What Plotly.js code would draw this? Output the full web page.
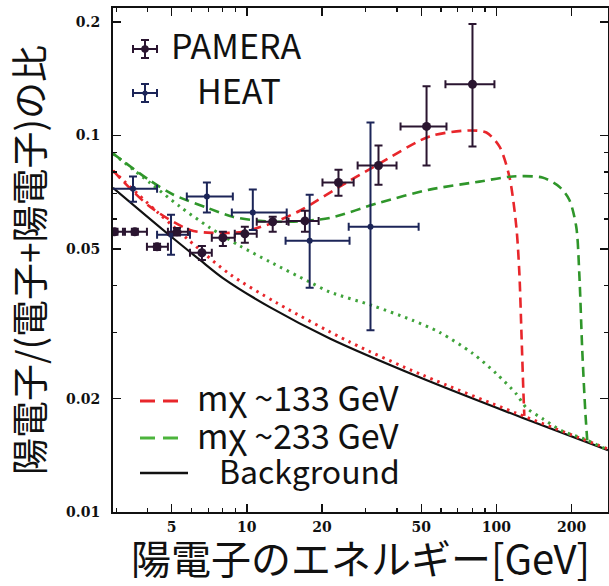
<!DOCTYPE html>
<html><head><meta charset="utf-8">
<script src="https://cdn.plot.ly/plotly-3.0.1.min.js"></script>
<style>html,body{margin:0;padding:0;background:#fff}</style>
</head><body><div id="chart" style="width:609px;height:586px"></div>
<script>
// PAMELA data (labelled PAMERA in the chart)
const pamX   = [2.95, 3.56, 4.37, 5.25, 6.61, 8.02, 9.82, 12.7, 17.1, 23.3, 33.7, 52.5, 80.2];
const pamY   = [0.0555, 0.0555, 0.0506, 0.0555, 0.0488, 0.0535, 0.0548, 0.0590, 0.0593, 0.0750, 0.0832, 0.1057, 0.1368];
const pamXlo = [2.6, 3.19, 3.98, 4.83, 5.92, 7.24, 8.95, 10.96, 14.45, 20.1, 27.8, 41.3, 62.5];
const pamXhi = [3.25, 3.98, 4.83, 5.81, 7.24, 8.95, 10.96, 14.7, 19.4, 26.8, 39.8, 63.1, 98.2];
const pamYlo = [0.0545, 0.0545, 0.0496, 0.0542, 0.0467, 0.0509, 0.0519, 0.0555, 0.0555, 0.0692, 0.0740, 0.0832, 0.0935];
const pamYhi = [0.0565, 0.0565, 0.0516, 0.0568, 0.0509, 0.0555, 0.0572, 0.0608, 0.0631, 0.0811, 0.0940, 0.1352, 0.1977];
// HEAT data
const heatX   = [3.50, 4.97, 6.92, 10.57, 17.86, 31.3];
const heatY   = [0.0722, 0.0545, 0.0688, 0.0624, 0.0525, 0.0572];
const heatXlo = [2.8, 4.37, 5.75, 8.71, 14.3, 25.6];
const heatXhi = [4.37, 5.92, 8.79, 14.45, 25.8, 48.8];
const heatYlo = [0.0667, 0.0482, 0.0624, 0.0561, 0.0394, 0.0304];
const heatYhi = [0.0778, 0.0616, 0.0750, 0.0718, 0.0696, 0.1083];
// Model curves
const bgX = [2.91, 4.97, 6.49, 8.02, 12.36, 21.5, 49.2, 127, 280];
const bgY = [0.0726, 0.0539, 0.0467, 0.0418, 0.0350, 0.0289, 0.0228, 0.0178, 0.0146];
const red133X = [2.91, 4.09, 5.92, 7.31, 9.64, 12.7, 16.3, 25.1, 34.0, 54.0, 78.0, 91.2, 102.8, 112.7, 120.2, 123.6, 125.9, 128.2, 129.4];
const red133Y = [0.0806, 0.0647, 0.0561, 0.0551, 0.0555, 0.0586, 0.0631, 0.0750, 0.0842, 0.0994, 0.1031, 0.1018, 0.0935, 0.0778, 0.0572, 0.0431, 0.0304, 0.0211, 0.0180];
const red133dotX = [2.91, 4.37, 6.49, 8.55, 13.2, 25.8, 50.6, 120, 280];
const red133dotY = [0.0806, 0.0627, 0.0497, 0.0428, 0.0359, 0.0283, 0.0231, 0.0183, 0.0147];
const green233X = [2.91, 4.09, 5.06, 6.92, 8.79, 11.27, 14.86, 21.5, 34.0, 54.0, 85.5, 115.9, 152.8, 178.6, 195.9, 208.9, 214.8, 220.8, 227, 231.2];
const green233Y = [0.0895, 0.0759, 0.0697, 0.0643, 0.0608, 0.0593, 0.0590, 0.0604, 0.0663, 0.0718, 0.0754, 0.0778, 0.0773, 0.0731, 0.0675, 0.0572, 0.0431, 0.0269, 0.0186, 0.0155];
const green233dotX = [2.91, 4.09, 5.40, 7.11, 9.38, 12.36, 17.86, 21.5, 31.6, 46.1, 59.2, 80.2, 100, 120, 132, 153, 184, 221, 280];
const green233dotY = [0.0895, 0.0749, 0.0647, 0.0569, 0.0509, 0.0462, 0.0408, 0.0384, 0.0354, 0.0323, 0.0300, 0.0264, 0.0233, 0.0206, 0.0189, 0.0177, 0.0164, 0.0157, 0.0146];
// Labels
const xTickVals = [5, 10, 20, 50, 100, 200];
const yTickVals = [0.01, 0.02, 0.05, 0.1, 0.2];
const yTickText = ['0.01', '0.02', '0.05', '0.1', '0.2'];
const names = ['PAMERA', 'HEAT', 'm\u03c7 ~133 GeV', 'm\u03c7 ~233 GeV', 'Background'];
const xTitle = '陽電子のエネルギー[GeV]';
const yTitle = '陽電子/(電子+陽電子)の比';

// ---- styling / layout helpers ----
const W = 609, H = 586, M = {l: 113, r: 1, t: 8, b: 74};
const pw = W - M.l - M.r, ph = H - M.t - M.b;
const px = v => (v - M.l) / pw;          // pixel -> paper x
const py = v => (H - M.b - v) / ph;      // pixel -> paper y
const plus = (v, hi) => v.map((a, i) => hi[i] - a);
const minus = (v, lo) => v.map((a, i) => a - lo[i]);
const cjk = '"Noto Sans CJK JP", "Noto Sans", sans-serif';
const lineSmooth = 0.8;
const cPam = '#2a1530', cHeat = '#1c2558', cRed = '#e8262b', cGreen = '#2f962a';

const traces = [
  {x: bgX, y: bgY, mode: 'lines', line: {color: '#111', width: 2.2, shape: 'spline', smoothing: lineSmooth}, name: names[4]},
  {x: red133dotX, y: red133dotY, mode: 'lines', line: {color: cRed, width: 3, dash: '2.5px,5px', shape: 'spline', smoothing: lineSmooth}},
  {x: green233dotX, y: green233dotY, mode: 'lines', line: {color: '#3fa33a', width: 3, dash: '2.5px,5px', shape: 'spline', smoothing: lineSmooth}},
  {x: red133X, y: red133Y, mode: 'lines', line: {color: cRed, width: 2.6, dash: '10px,6px', shape: 'spline', smoothing: lineSmooth}, name: names[2]},
  {x: green233X, y: green233Y, mode: 'lines', line: {color: cGreen, width: 2.6, dash: '10px,6px', shape: 'spline', smoothing: lineSmooth}, name: names[3]},
  {x: heatX, y: heatY, mode: 'markers', name: names[1],
   marker: {color: cHeat, size: 6},
   error_x: {type: 'data', symmetric: false, array: plus(heatX, heatXhi), arrayminus: minus(heatX, heatXlo), color: cHeat, thickness: 2, width: 4},
   error_y: {type: 'data', symmetric: false, array: plus(heatY, heatYhi), arrayminus: minus(heatY, heatYlo), color: cHeat, thickness: 2, width: 4}},
  {x: pamX, y: pamY, mode: 'markers', name: names[0],
   marker: {color: cPam, size: 9},
   error_x: {type: 'data', symmetric: false, array: plus(pamX, pamXhi), arrayminus: minus(pamX, pamXlo), color: cPam, thickness: 2, width: 4},
   error_y: {type: 'data', symmetric: false, array: plus(pamY, pamYhi), arrayminus: minus(pamY, pamYlo), color: cPam, thickness: 2, width: 4}}
];

// ---- hand-placed legend (icons as shapes, labels as annotations) ----
const shapes = [];
const ln = (x0, y0, x1, y1, color, width, dash) => shapes.push({type: 'line', xref: 'paper', yref: 'paper',
  x0: px(x0), y0: py(y0), x1: px(x1), y1: py(y1), line: {color, width, dash: dash || 'solid'}});
function crossIcon(cx, cy, color, r) {
  ln(cx - 12, cy, cx + 12, cy, color, 2);
  ln(cx - 12, cy - 4, cx - 12, cy + 4, color, 2);
  ln(cx + 12, cy - 4, cx + 12, cy + 4, color, 2);
  ln(cx, cy - 9, cx, cy + 9, color, 2);
  ln(cx - 4, cy - 9, cx + 4, cy - 9, color, 2);
  ln(cx - 4, cy + 9, cx + 4, cy + 9, color, 2);
  shapes.push({type: 'circle', xref: 'paper', yref: 'paper', x0: px(cx - r), x1: px(cx + r), y0: py(cy + r), y1: py(cy - r),
    fillcolor: color, line: {color, width: 0}});
}
crossIcon(145, 49, cPam, 3.8);
crossIcon(145, 93, cHeat, 2.6);
ln(140, 401, 155, 401, cRed, 3);
ln(163, 401, 178, 401, cRed, 3);
ln(140, 438, 155, 438, '#4cb43c', 3);
ln(163, 438, 178, 438, '#4cb43c', 3);
ln(140, 473, 188, 473, '#111', 2.4);

const legFont = {family: cjk, size: 34, color: '#111'};
const legFont2 = {family: cjk, size: 34, color: '#111'};
const legFont3 = {family: cjk, size: 32, color: '#111'};
const ann = (x, y, text, font) => ({xref: 'paper', yref: 'paper', x: px(x), y: py(y), xanchor: 'left', yanchor: 'middle',
  text, font, showarrow: false, borderpad: 0});
const annotations = [
  ann(170, 45, names[0], legFont),
  ann(196, 90, names[1], legFont),
  ann(196, 396, names[2], legFont2),
  ann(196, 434, names[3], legFont2),
  ann(218, 470, names[4], legFont3)
];

const tickFont = {family: '"DejaVu Serif", serif', size: 14, color: '#111', weight: 'bold'};
const layout = {
  width: W, height: H, margin: M,
  paper_bgcolor: '#fff', plot_bgcolor: '#fff',
  showlegend: false,
  xaxis: {
    type: 'log', range: [Math.log10(2.91), Math.log10(280)],
    tickmode: 'array', tickvals: xTickVals, ticktext: xTickVals.map(String),
    ticks: 'inside', ticklen: 8, tickwidth: 1.5, tickcolor: '#111',
    minor: {ticks: 'inside', ticklen: 4, tickwidth: 1.2, tickcolor: '#111', dtick: 'D1', showgrid: false},
    showline: true, linecolor: '#111', linewidth: 2, mirror: 'ticks',
    showgrid: false, zeroline: false, tickfont: tickFont, ticklabelstandoff: 1,
    title: {text: xTitle, font: {family: cjk, size: 40, color: '#111'}, standoff: 9}
  },
  yaxis: {
    type: 'log', range: [-2, Math.log10(0.218)],
    tickmode: 'array', tickvals: yTickVals, ticktext: yTickText,
    ticks: 'inside', ticklen: 8, tickwidth: 1.5, tickcolor: '#111',
    minor: {ticks: 'inside', ticklen: 4, tickwidth: 1.2, tickcolor: '#111', dtick: 'D1', showgrid: false},
    showline: true, linecolor: '#111', linewidth: 2, mirror: 'ticks',
    showgrid: false, zeroline: false, tickfont: tickFont, ticklabelstandoff: 8,
    title: {text: yTitle, font: {family: cjk, size: 37, color: '#111'}, standoff: 10}
  },
  shapes, annotations
};

Plotly.newPlot('chart', traces, layout, {displayModeBar: false, staticPlot: true});
</script>
</body></html>
